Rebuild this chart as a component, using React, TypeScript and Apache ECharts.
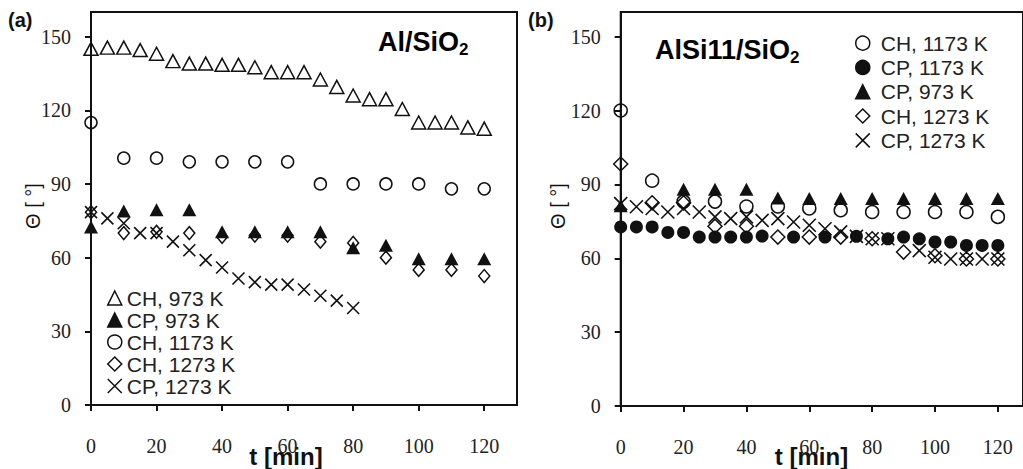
import React, { useEffect, useRef } from "react";
import * as echarts from "echarts";

// ---------- data ----------
const xTicks = [0, 20, 40, 60, 80, 100, 120];
const yTicks = [0, 30, 60, 90, 120, 150];

// Panel (a) Al/SiO2
const tA_CH973 = [0, 5, 10, 15, 20, 25, 30, 35, 40, 45, 50, 55, 60, 65, 70, 75, 80, 85, 90, 95, 100, 105, 110, 115, 120];
const vA_CH973 = [145, 145.5, 145.5, 144.5, 143, 140, 139, 139, 138.5, 138.5, 137.5, 135.5, 135.5, 135.5, 132.5, 129.5, 126, 124.5, 124.5, 120.5, 115, 115, 115, 113, 112.5];
const tA_10 = [0, 10, 20, 30, 40, 50, 60, 70, 80, 90, 100, 110, 120];
const vA_CP973 = [72.5, 79, 79.5, 79.5, 70.5, 70.5, 70.5, 70.5, 64, 65, 59.5, 59.5, 59.5];
const vA_CH1173 = [115, 100.5, 100.5, 99, 99, 99, 99, 90, 90, 90, 90, 88, 88];
const vA_CH1273 = [78.5, 70, 70.5, 70, 68.5, 69, 69, 66.5, 66, 60, 55, 55, 52.5];
const tA_CP1273 = [0, 5, 10, 15, 20, 25, 30, 35, 40, 45, 50, 55, 60, 65, 70, 75, 80];
const vA_CP1273 = [78.5, 76, 74, 70, 70, 66.5, 63, 59, 56, 51.5, 50, 49, 49, 47, 44.5, 42.5, 39.5];

// Panel (b) AlSi11/SiO2
const tB_10 = [0, 10, 20, 30, 40, 50, 60, 70, 80, 90, 100, 110, 120];
const vB_CH1173 = [120, 91.5, 83, 83, 81, 81, 80.2, 79.5, 78.8, 78.8, 78.8, 78.8, 76.8];
const tB_CP1173 = [0, 5, 10, 15, 20, 25, 30, 35, 40, 45, 55, 65, 75, 85, 90, 95, 100, 105, 110, 115, 120];
const vB_CP1173 = [72.7, 72.7, 72.7, 70.5, 70.5, 68.6, 68.6, 68.6, 68.6, 69, 68.6, 68.6, 68.9, 67.9, 68.6, 67.9, 66.6, 66.6, 65.2, 65.2, 65.2];
const tB_CP973 = [0, 20, 30, 40, 50, 60, 70, 80, 90, 100, 110, 120];
const vB_CP973 = [81.3, 88, 88, 88, 84.5, 84.3, 84.3, 84.3, 84.3, 84.3, 84.3, 84.3];
const vB_CH1273 = [98.3, 82.5, 82.5, 73, 73, 68.6, 68.6, 68.6, 67.9, 62.5, 61, 59.7, 59.7];
const tB_CP1273 = [0, 5, 10, 15, 20, 25, 30, 35, 40, 45, 50, 55, 60, 65, 70, 75, 80, 85, 95, 100, 105, 110, 115, 120];
const vB_CP1273 = [82.2, 80.9, 80.2, 78.8, 80.2, 78.8, 76.8, 76.1, 76.8, 75.4, 76.1, 74.7, 73.4, 72, 70.7, 68.9, 67.9, 67.9, 63.1, 60.4, 59.7, 59.7, 59.7, 59.7];

const legendA = ["CH, 973 K", "CP, 973 K", "CH, 1173 K", "CH, 1273 K", "CP, 1273 K"];
const legendB = ["CH, 1173 K", "CP, 1173 K", "CP, 973 K", "CH, 1273 K", "CP, 1273 K"];

const zip = (t: number[], v: number[]) => t.map((x, i) => [x, v[i]]);

const INK = "#111";
const CROSS = "path://M0,0L10,10M10,0L0,10";

const openStyle = { color: "rgba(0,0,0,0)", borderColor: INK, borderWidth: 1.5, opacity: 1 };
const fillStyle = { color: INK, borderColor: INK, borderWidth: 0, opacity: 1 };
const crossStyle = { color: "rgba(0,0,0,0)", borderColor: INK, borderWidth: 1.6, opacity: 1 };

function mk(name: string, data: number[][], idx: number, symbol: string, size: any, style: any) {
  return {
    name,
    type: "scatter",
    xAxisIndex: idx,
    yAxisIndex: idx,
    data,
    symbol,
    symbolSize: size,
    itemStyle: style,
    emphasis: { disabled: true },
  };
}

function xAxisCfg(idx: number, max: number) {
  return {
    gridIndex: idx,
    type: "value",
    min: 0,
    max,
    interval: 20,
    axisLine: { show: true, onZero: false, lineStyle: { color: INK, width: 2 } },
    axisTick: { show: true, customValues: xTicks, length: 6, lineStyle: { color: INK, width: 2 } },
    axisLabel: {
      customValues: xTicks,
      margin: 31,
      fontFamily: "Liberation Serif",
      fontSize: 20,
      color: "#222",
    },
    splitLine: { show: false },
  };
}

function yAxisCfg(idx: number) {
  return {
    gridIndex: idx,
    type: "value",
    min: 0,
    max: 160,
    interval: 30,
    axisLine: { show: true, onZero: false, lineStyle: { color: INK, width: 2 } },
    axisTick: { show: true, customValues: yTicks, length: 6, lineStyle: { color: INK, width: 2 } },
    axisLabel: {
      customValues: yTicks,
      margin: 20,
      fontFamily: "Liberation Serif",
      fontSize: 20,
      color: "#222",
    },
    splitLine: { show: false },
  };
}

const titleRich = {
  m: { fontFamily: "Liberation Sans", fontWeight: "bold", fontSize: 27, lineHeight: 32, color: "#111" },
  s: { fontFamily: "Liberation Sans", fontWeight: "bold", fontSize: 17, lineHeight: 15, color: "#111", verticalAlign: "bottom" },
};

export default function App() {
  const ref = useRef<HTMLDivElement>(null);
  useEffect(() => {
    document.body.style.margin = "0";
    if (!ref.current) return;
    const chart = echarts.init(ref.current, null, { renderer: "svg" });
    const option: any = {
      animation: false,
      backgroundColor: "#fff",
      grid: [
        { left: 91, top: 12, width: 426, height: 393, show: true, borderColor: INK, borderWidth: 2, backgroundColor: "transparent" },
        { left: 620.7, top: 12, width: 404, height: 394, show: true, borderColor: INK, borderWidth: 2, backgroundColor: "transparent" },
      ],
      xAxis: [xAxisCfg(0, 130), xAxisCfg(1, 128)],
      yAxis: [yAxisCfg(0), yAxisCfg(1)],
      legend: [
        {
          orient: "vertical",
          left: 107,
          top: 287,
          padding: 0,
          data: legendA,
          itemWidth: 14,
          itemHeight: 14,
          itemGap: 0,
          selectedMode: false,
          itemStyle: { borderWidth: 1.5 },
          textStyle: { fontFamily: "Liberation Sans", fontSize: 21, color: "#222", lineHeight: 22 },
        },
        {
          orient: "vertical",
          left: 855,
          top: 31,
          padding: 0,
          data: legendB,
          itemWidth: 14,
          itemHeight: 14,
          itemGap: 0,
          selectedMode: false,
          itemStyle: { borderWidth: 1.5 },
          textStyle: { fontFamily: "Liberation Sans", fontSize: 21, color: "#222", lineHeight: 24.3, padding: [0, 0, 0, 6] },
        },
      ],
      graphic: [
        { type: "text", x: 8, y: 20, style: { text: "(a)", font: "bold 20px 'Liberation Sans'", fill: "#111", verticalAlign: "middle" } },
        { type: "text", x: 528, y: 20, style: { text: "(b)", font: "bold 20px 'Liberation Sans'", fill: "#111", verticalAlign: "middle" } },
        { type: "text", x: 378, y: 42, style: { text: "{m|Al/SiO}{s|2}", rich: titleRich, verticalAlign: "middle" } },
        { type: "text", x: 655, y: 50, style: { text: "{m|AlSi11/SiO}{s|2}", rich: titleRich, verticalAlign: "middle" } },
        { type: "text", x: 286, y: 456, style: { text: "t [min]", font: "bold 24px 'Liberation Sans'", fill: "#111", align: "center", verticalAlign: "middle" } },
        { type: "text", x: 811.5, y: 456, style: { text: "t [min]", font: "bold 24px 'Liberation Sans'", fill: "#111", align: "center", verticalAlign: "middle" } },
        { type: "text", x: 32.5, y: 206, rotation: Math.PI / 2, style: { text: "Θ [ °]", font: "20px 'Liberation Sans'", fill: "#111", align: "center", verticalAlign: "middle" } },
        { type: "text", x: 558, y: 206, rotation: Math.PI / 2, style: { text: "Θ [ °]", font: "20px 'Liberation Sans'", fill: "#111", align: "center", verticalAlign: "middle" } },
      ],
      series: [
        mk("CH, 973 K", zip(tA_CH973, vA_CH973), 0, "triangle", [14, 13], openStyle),
        mk("CP, 973 K", zip(tA_10, vA_CP973), 0, "triangle", [14, 13], fillStyle),
        mk("CH, 1173 K", zip(tA_10, vA_CH1173), 0, "circle", 12, openStyle),
        mk("CH, 1273 K", zip(tA_10, vA_CH1273), 0, "diamond", [11, 13], openStyle),
        mk("CP, 1273 K", zip(tA_CP1273, vA_CP1273), 0, CROSS, 12, crossStyle),

        mk("CH, 1173 K", zip(tB_10, vB_CH1173), 1, "circle", 13, openStyle),
        mk("CP, 1173 K", zip(tB_CP1173, vB_CP1173), 1, "circle", 13, fillStyle),
        mk("CP, 973 K", zip(tB_CP973, vB_CP973), 1, "triangle", [14, 13], fillStyle),
        mk("CH, 1273 K", zip(tB_10, vB_CH1273), 1, "diamond", [14, 14], openStyle),
        mk("CP, 1273 K", zip(tB_CP1273, vB_CP1273), 1, CROSS, 13, crossStyle),
      ],
    };
    chart.setOption(option);
    return () => chart.dispose();
  }, []);
  return <div ref={ref} style={{ width: 1023, height: 469 }} />;
}
